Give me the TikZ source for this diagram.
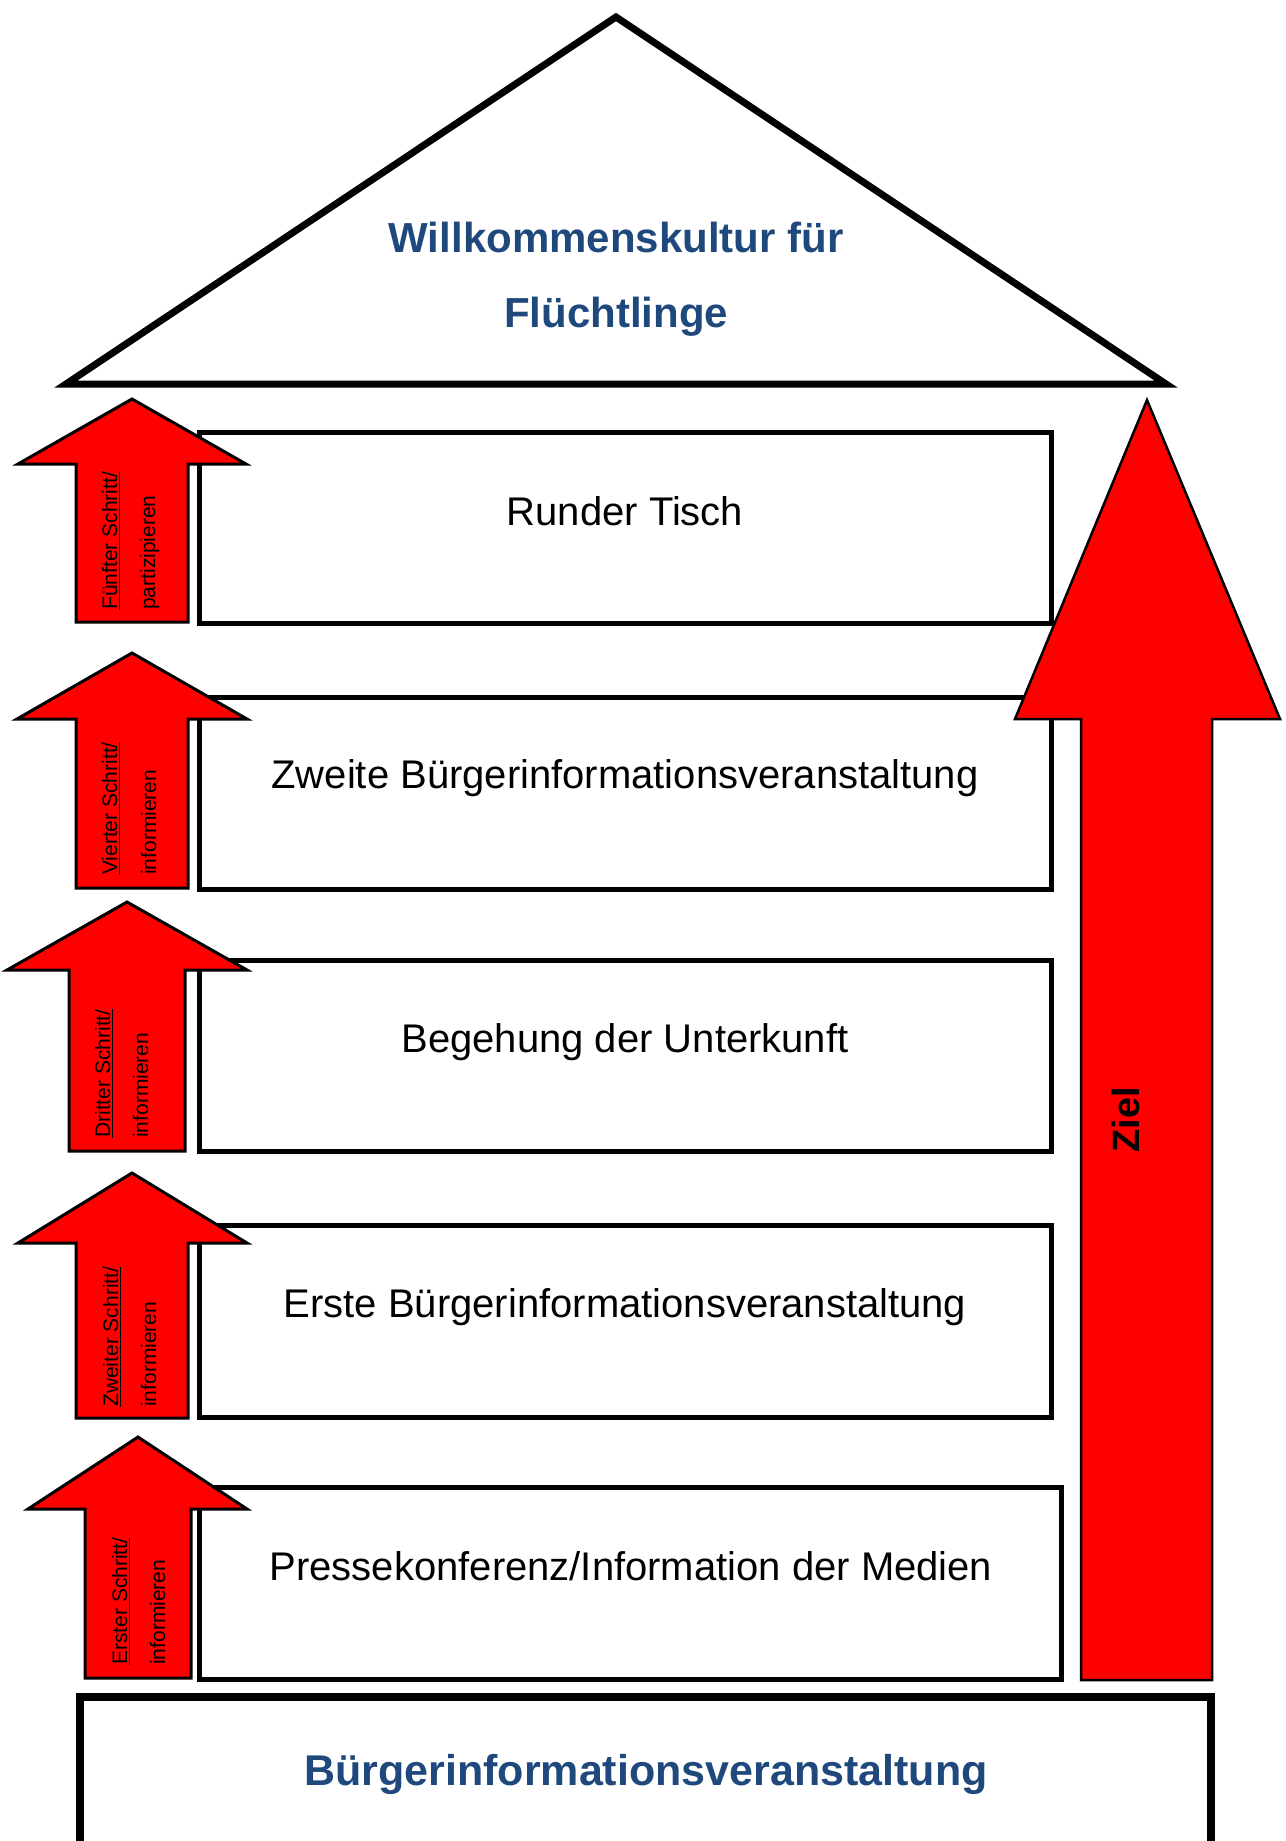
\documentclass[tikz,border=0pt]{standalone}
\usepackage{fontspec}
\setmainfont{Liberation Sans}
\definecolor{titleblue}{RGB}{31,73,125}
\newcommand\myul[1]{\leavevmode\setbox0\hbox{#1}\rlap{\rule[-3pt]{\wd0}{1.4pt}}\box0}
\begin{document}
\begin{tikzpicture}[x=1pt,y=-1pt,line join=miter,miter limit=10,
  stagebox/.style={draw,line width=5pt,fill=white,inner sep=0pt,outer sep=0pt,anchor=north west},
  steparrow/.style={draw,line width=3pt,fill=red},
  goalarrow/.style={draw,line width=2.5pt,fill=red},
  boxtext/.style={font=\fontsize{40}{48}\selectfont,anchor=base,inner sep=0pt},
  steptext/.style={font=\fontsize{21}{25}\selectfont,rotate=90,anchor=base west,inner sep=0pt},
  titletext/.style={font=\bfseries\fontsize{42}{50}\selectfont,text=titleblue,anchor=base,inner sep=0pt}]
\useasboundingbox (0,0) rectangle (1285,1841);
\clip (0,0) rectangle (1285,1841);
\fill[white] (0,0) rectangle (1285,1841);

% roof
\draw[line width=7pt,fill=white] (66,384) -- (616,17) -- (1166,384) -- cycle;
\node[titletext] (t1) at (616,252) {Willkommenskultur für};
\node[titletext] (t2) at (616,327) {Flüchtlinge};

% stage boxes
\node[stagebox,minimum width=852pt,minimum height=191pt] (b5) at (199,432) {};
\node[stagebox,minimum width=852pt,minimum height=192pt] (b4) at (199,697) {};
\node[stagebox,minimum width=852pt,minimum height=191pt] (b3) at (199,960) {};
\node[stagebox,minimum width=852pt,minimum height=192pt] (b2) at (199,1225) {};
\node[stagebox,minimum width=862pt,minimum height=192pt] (b1) at (199,1487) {};

\node[boxtext] (l5) at (625,525) {Runder Tisch};
\node[boxtext] (l4) at (625,788) {Zweite Bürgerinformationsveranstaltung};
\node[boxtext] (l3) at (625,1052) {Begehung der Unterkunft};
\node[boxtext] (l2) at (625,1317) {Erste Bürgerinformationsveranstaltung};
\node[boxtext] (l1) at (631,1580) {Pressekonferenz/Information der Medien};

% base box
\node[draw,line width=8pt,fill=white,inner sep=0pt,outer sep=0pt,anchor=north west,minimum width=1131pt,minimum height=220pt] (base) at (80,1697) {};
\node[titletext,font=\bfseries\fontsize{43}{50}\selectfont] (baselabel) at (646,1785) {Bürgerinformationsveranstaltung};

% step arrows
\draw[steparrow] (132,399) -- (246,464) -- (188,464) -- (188,622) -- (76,622) -- (76,464) -- (18,464) -- cycle;
\draw[steparrow] (132,653) -- (247,719) -- (188,719) -- (188,888) -- (76,888) -- (76,719) -- (17,719) -- cycle;
\draw[steparrow] (127,902) -- (247,970) -- (185,970) -- (185,1151) -- (69,1151) -- (69,970) -- (7,970) -- cycle;
\draw[steparrow] (132,1173) -- (247,1243) -- (188,1243) -- (188,1418) -- (76,1418) -- (76,1243) -- (18,1243) -- cycle;
\draw[steparrow] (138,1437) -- (247,1509) -- (191,1509) -- (191,1678) -- (85,1678) -- (85,1509) -- (28,1509) -- cycle;

\node[steptext] (s5a) at (117,610) {\myul{Fünfter Schritt/}};
\node[steptext] (s5b) at (155,610) {partizipieren};
\node[steptext] (s4a) at (117,875) {\myul{Vierter Schritt/}};
\node[steptext] (s4b) at (156,875) {informieren};
\node[steptext] (s3a) at (110,1138) {\myul{Dritter Schritt/}};
\node[steptext] (s3b) at (148,1138) {informieren};
\node[steptext] (s2a) at (118,1407) {\myul{Zweiter Schritt/}};
\node[steptext] (s2b) at (156,1407) {informieren};
\node[steptext] (s1a) at (127,1665) {\myul{Erster Schritt/}};
\node[steptext] (s1b) at (165,1665) {informieren};

% goal arrow
\draw[goalarrow] (1147,400) -- (1280,719) -- (1212,719) -- (1212,1680) -- (1081,1680) -- (1081,719) -- (1015,719) -- cycle;
\node[font=\bfseries\fontsize{38}{44}\selectfont,rotate=90,inner sep=0pt] (ziel) at (1126,1120) {Ziel};
\end{tikzpicture}
\end{document}
